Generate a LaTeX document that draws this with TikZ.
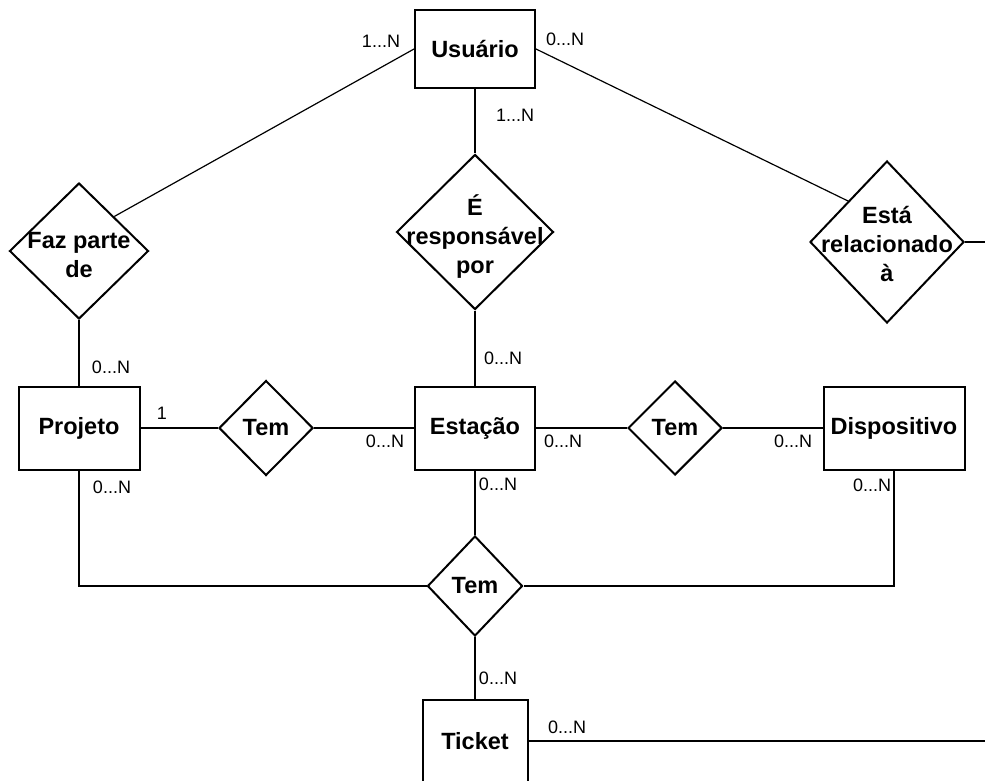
\documentclass[tikz,border=0pt]{standalone}
\usepackage{fontspec}
\setmainfont{Liberation Sans}
\usetikzlibrary{shapes.geometric}

\begin{document}
\begin{tikzpicture}[x=1pt, y=-1pt,
    entidade/.style={draw, line width=2pt, inner sep=0pt, font=\bfseries\fontsize{23.5}{29}\selectfont},
    relacao/.style={draw, diamond, line width=2pt, inner sep=0pt},
    rotulo/.style={font=\bfseries\fontsize{23.5}{29}\selectfont, align=center, inner sep=0pt},
    card/.style={font=\fontsize{18}{20}\selectfont, inner sep=0pt},
    liga/.style={line width=1.2pt}]
    \useasboundingbox (0,0) rectangle (985,781);

    % Entidades
    \node[entidade, minimum width=120pt, minimum height=78pt] (usuario) at (475,49) {Usuário};
    \node[entidade, minimum width=121pt, minimum height=83pt] (projeto) at (79,428) {Projeto};
    \node[entidade, minimum width=120pt, minimum height=83pt] (estacao) at (475,428) {Estação};
    \node[entidade, minimum width=141pt, minimum height=83pt] (dispositivo) at (894,428) {Dispositivo};
    \node[entidade, minimum width=105pt, minimum height=83pt] (ticket) at (475,741) {Ticket};

    % Relacionamentos
    \node[relacao, minimum width=139pt, minimum height=136pt,
        label={[rotulo, yshift=-4pt]center:{Faz parte\\de}}] (fazparte) at (79,251) {};
    \node[relacao, minimum width=157pt, minimum height=155pt,
        label={[rotulo, yshift=-5pt]center:{É\\responsável\\por}}] (responsavel) at (475,232) {};
    \node[relacao, minimum width=154pt, minimum height=162pt,
        label={[rotulo, yshift=-2pt]center:{Está\\relacionado\\à}}] (relacionado) at (887,242) {};
    \node[relacao, minimum width=94pt, minimum height=95pt,
        label={[rotulo]center:Tem}] (tem1) at (266,428) {};
    \node[relacao, minimum width=94pt, minimum height=94pt,
        label={[rotulo]center:Tem}] (tem2) at (675,428) {};
    \node[relacao, minimum width=95pt, minimum height=100pt,
        label={[rotulo]center:Tem}] (tem3) at (475,586) {};

    % Pontas que saem da figura
    \coordinate (saida1) at (985,242);
    \coordinate (saida2) at (985,741);

    % Ligacoes
    \draw[liga] (usuario.west) -- (fazparte.north east);
    \draw[liga] (usuario.east) -- (relacionado.north west);
    \draw[liga] (usuario.south) -- (responsavel.north);
    \draw[liga] (relacionado.east) -- (saida1);
    \draw[liga] (fazparte.south) -- (projeto.north);
    \draw[liga] (responsavel.south) -- (estacao.north);
    \draw[liga] (projeto.east) -- (tem1.west);
    \draw[liga] (tem1.east) -- (estacao.west);
    \draw[liga] (estacao.east) -- (tem2.west);
    \draw[liga] (tem2.east) -- (dispositivo.west);
    \draw[liga] (projeto.south) |- (tem3.west);
    \draw[liga] (dispositivo.south) |- (tem3.east);
    \draw[liga] (estacao.south) -- (tem3.north);
    \draw[liga] (tem3.south) -- (ticket.north);
    \draw[liga] (ticket.east) -- (saida2);

    % Cardinalidades
    \node[card] (c1) at (381,41) {1...N};
    \node[card] (c2) at (565,39) {0...N};
    \node[card] (c3) at (515,115) {1...N};
    \node[card] (c4) at (111,367) {0...N};
    \node[card] (c5) at (162,413) {1};
    \node[card] (c6) at (112,487) {0...N};
    \node[card] (c7) at (503,358) {0...N};
    \node[card] (c8) at (385,441) {0...N};
    \node[card] (c9) at (563,441) {0...N};
    \node[card] (c10) at (498,484) {0...N};
    \node[card] (c11) at (793,441) {0...N};
    \node[card] (c12) at (872,485) {0...N};
    \node[card] (c13) at (498,678) {0...N};
    \node[card] (c14) at (567,727) {0...N};
\end{tikzpicture}
\end{document}
